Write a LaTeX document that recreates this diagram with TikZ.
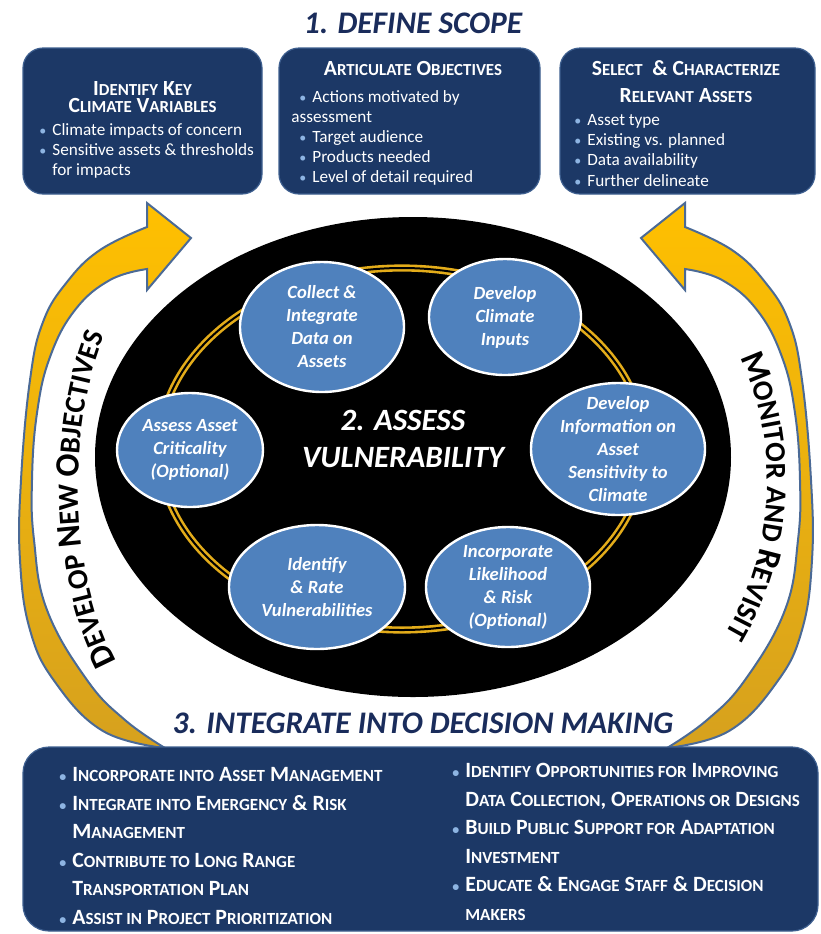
\documentclass[tikz,border=0pt]{standalone}
\usepackage{fontspec}
\setmainfont{Carlito}
\usetikzlibrary{shapes.geometric,decorations.text,positioning}

\definecolor{navy}{HTML}{1C3866}
\definecolor{boxline}{HTML}{3E5F8F}
\definecolor{bulletc}{HTML}{8DB4E2}
\definecolor{titlenavy}{HTML}{1A2C5B}
\definecolor{taskblue}{HTML}{4F81BD}
\definecolor{ringgold}{HTML}{E3AC1A}
\definecolor{goldtop}{HTML}{FFC000}
\definecolor{golddark}{HTML}{D6A11E}
\definecolor{arrowline}{HTML}{4B6A96}

\makeatletter
\newcommand\lc[1]{{\fontsize{\fpeval{0.78*\f@size}}{\f@baselineskip}\selectfont #1}}
\makeatother
\newcommand\bul{{\color{bulletc}\fontsize{7}{7}\selectfont\textbullet}\hspace{3pt}}
\newcommand\loopbig{\bfseries\fontsize{17}{17}\selectfont}
\newcommand\loopsmall{\bfseries\fontsize{14.5}{14.5}\selectfont}

\tikzset{%
	scopebox/.style   = {draw=boxline, fill=navy, line width=0.6pt, rounded corners=10pt, inner sep=0pt},
	boxhead/.style    = {text=white, font=\bfseries\fontsize{10.8}{8.5}\selectfont, align=center, inner sep=0pt, anchor=base},
	boxlist/.style    = {text=white, font=\fontsize{8.6}{10}\selectfont, align=left, inner sep=0pt, anchor=base west},
	bottomlist/.style = {text=white, font=\bfseries\fontsize{10.9}{14.25}\selectfont, align=left, inner sep=0pt, anchor=base west},
	bigtitle/.style   = {text=titlenavy, font=\bfseries\itshape\fontsize{15.7}{18}\selectfont, inner sep=0pt, anchor=base},
	task/.style       = {ellipse, draw=white, line width=1.2pt, fill=taskblue, inner sep=0pt},
	tasktext/.style   = {text=white, font=\bfseries\itshape\fontsize{9.3}{11.5}\selectfont, align=center, inner sep=0pt},
	cyclearrow/.style = {draw=arrowline, line width=1pt, top color=goldtop, bottom color=golddark},
}

\begin{document}
\begin{tikzpicture}[x=0.5pt,y=-0.5pt]
	\useasboundingbox (0,0) rectangle (821,934);
	
	% curved arrows, the right one mirrored
	\foreach \s/\o in {1/0,-1/832}{
		\begin{scope}[shift={(\o,0)}, xscale=\s]
			\filldraw[cyclearrow] plot[smooth, tension=0.7] coordinates {(165,748) (103,731) (55,682) (30,630) (20,560) (21,480) (30,380) (43,322) (67,282) (100,250) (147,227)}
				-- (147,203) -- (191,238) -- (147,290) -- (147,269)
				-- plot[smooth, tension=0.7] coordinates {(147,269) (110,280) (75,310) (50,357) (37,413) (32,480) (34,540) (47,610) (87,680) (125,720) (165,748)}
				-- cycle;
		\end{scope}
	}
	
	\path[decorate, decoration={text along path, text align=center,
		text={|\loopbig|D|\loopsmall|EVELOP |\loopbig|N|\loopsmall|EW |\loopbig|O|\loopsmall|BJECTIVES}}]
		(135,690) .. controls (62,600) and (62,400) .. (120,305);
	\path[decorate, decoration={text along path, text align=center,
		text={|\loopbig|M|\loopsmall|ONITOR AND |\loopbig|R|\loopsmall|EVISIT}}]
		(722,325) .. controls (785,420) and (785,560) .. (705,665);
	
	% 2. assess
	\fill[black] (413,457) ellipse [x radius=318, y radius=240];
	\draw[ringgold, line width=3.6pt] (402,449) ellipse [x radius=243, y radius=181];
	\draw[black, line width=1pt] (402,449) ellipse [x radius=243, y radius=181];
	\node[text=white, font=\bfseries\itshape\fontsize{15.5}{18.5}\selectfont, align=center, inner sep=0pt] (assess) at (403,439) {2. ASSESS\\VULNERABILITY};
	
	\node[task, minimum width=82pt, minimum height=65pt] (collect) at (322,327) {};
	\node[tasktext] (collecttxt) at (collect) {Collect \&\\Integrate\\Data on\\Assets};
	\node[task, minimum width=76pt, minimum height=58pt] (inputs) at (505,317) {};
	\node[tasktext] (inputstxt) at (inputs) {Develop\\Climate\\Inputs};
	\node[task, minimum width=87pt, minimum height=66pt] (sens) at (618,449) {};
	\node[tasktext] (senstxt) at (sens) {Develop\\Information on\\Asset\\Sensitivity to\\Climate};
	\node[task, minimum width=82pt, minimum height=60pt] (risk) at (508,587) {};
	\node[tasktext] (risktxt) at (risk) {Incorporate\\Likelihood\\\& Risk\\(Optional)};
	\node[task, minimum width=88pt, minimum height=62pt] (rate) at (317,587) {};
	\node[tasktext] (ratetxt) at (rate) {Identify\\\& Rate\\Vulnerabilities};
	\node[task, minimum width=73pt, minimum height=57pt] (crit) at (190,450) {};
	\node[tasktext] (crittxt) at (crit) {Assess Asset\\Criticality\\(Optional)};
	
	% 1. define scope
	\node[bigtitle] (scope) at (413,33) {1. DEFINE SCOPE};
	
	\node[scopebox, minimum width=119.5pt, minimum height=73pt] (keyvars) at (142.5,121) {};
	\node[boxhead] (keyhead) at (142.5,112) {I\lc{DENTIFY} K\lc{EY}\\C\lc{LIMATE} V\lc{ARIABLES}};
	\node[boxlist] (keylist) at (39,175) {\bul Climate impacts of concern\\\bul Sensitive assets \& thresholds\\\hphantom{\bul}for impacts};
	
	\node[scopebox, minimum width=130.5pt, minimum height=73pt] (objectives) at (409.5,121) {};
	\node[boxhead] (objhead) at (413,75) {A\lc{RTICULATE} O\lc{BJECTIVES}};
	\node[boxlist] (objlist) at (299,182) {\bul Actions motivated by\\\kern-4pt assessment\\\bul Target audience\\\bul Products needed\\\bul Level of detail required};
	
	\node[scopebox, minimum width=127.5pt, minimum height=73pt] (assets) at (687.5,121) {};
	\node[boxhead, font=\bfseries\fontsize{10.8}{13.5}\selectfont] (assethead) at (686,102) {S\lc{ELECT} \ \& C\lc{HARACTERIZE}\\R\lc{ELEVANT} A\lc{SSETS}};
	\node[boxlist, font=\fontsize{8.6}{10.15}\selectfont] (assetlist) at (574,186) {\bul Asset type\\\bul Existing vs. planned\\\bul Data availability\\\bul Further delineate};
	
	% 3. integrate
	\node[bigtitle] (integrate) at (423,733) {3. INTEGRATE INTO DECISION MAKING};
	
	\node[scopebox, rounded corners=13pt, minimum width=397.5pt, minimum height=92pt] (decide) at (420.5,839) {};
	\node[bottomlist] (decideleft) at (59,924) {\bul I\lc{NCORPORATE INTO} A\lc{SSET} M\lc{ANAGEMENT}\\
		\bul I\lc{NTEGRATE INTO} E\lc{MERGENCY} \& R\lc{ISK}\\
		\hphantom{\bul}M\lc{ANAGEMENT}\\
		\bul C\lc{ONTRIBUTE TO} L\lc{ONG} R\lc{ANGE}\\
		\hphantom{\bul}T\lc{RANSPORTATION} P\lc{LAN}\\
		\bul A\lc{SSIST IN} P\lc{ROJECT} P\lc{RIORITIZATION}};
	\node[bottomlist] (decideright) at (452,920) {\bul I\lc{DENTIFY} O\lc{PPORTUNITIES FOR} I\lc{MPROVING}\\
		\hphantom{\bul}D\lc{ATA} C\lc{OLLECTION}, O\lc{PERATIONS OR} D\lc{ESIGNS}\\
		\bul B\lc{UILD} P\lc{UBLIC} S\lc{UPPORT FOR} A\lc{DAPTATION}\\
		\hphantom{\bul}I\lc{NVESTMENT}\\
		\bul E\lc{DUCATE} \& E\lc{NGAGE} S\lc{TAFF} \& D\lc{ECISION}\\
		\hphantom{\bul}\lc{MAKERS}};
	
\end{tikzpicture}
\end{document}
